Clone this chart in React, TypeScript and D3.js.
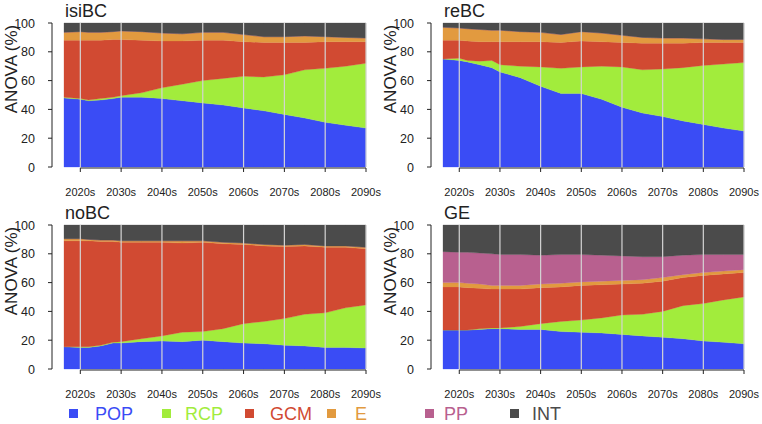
import React from "react";
import * as d3 from "d3";

const years = [2016, 2020, 2022, 2025, 2028, 2030, 2035, 2040, 2045, 2050, 2055, 2060, 2065, 2070, 2075, 2080, 2085, 2090];
const tickYears = [2020, 2030, 2040, 2050, 2060, 2070, 2080, 2090];
const tickLabels = ["2020s", "2030s", "2040s", "2050s", "2060s", "2070s", "2080s", "2090s"];
const yTicks = [0, 20, 40, 60, 80, 100];
const seriesNames = ["POP", "RCP", "GCM", "E", "PP", "INT"];
const seriesColors = ["#3a4cf5", "#a2ec3c", "#d14a32", "#e29a3f", "#b8608f", "#4b4b4b"];
const panelTitles = ["isiBC", "reBC", "noBC", "GE"];

// isiBC
const isiPOP = [48, 47, 46, 46.5, 47.5, 48.5, 48.5, 47.5, 46, 44.5, 43, 41, 39, 36.5, 34, 31, 29, 27];
const isiRCP = [0.5, 0.5, 0.5, 1, 1, 1, 3, 7.5, 11.5, 15.5, 18.5, 22, 23.5, 27.5, 33.5, 37.5, 41, 45];
const isiGCM = [39.5, 40.5, 41.5, 40.5, 40, 39, 36.5, 32.5, 30, 28, 26.5, 24, 24, 22.5, 19, 18.5, 17, 15];
const isiE = [5.5, 6, 5.5, 5.5, 5.5, 6, 6, 5.5, 5, 5.5, 5.5, 5, 4, 4, 4.5, 3.5, 3, 2.5];
const isiPP = [0, 0, 0, 0, 0, 0, 0, 0, 0, 0, 0, 0, 0, 0, 0, 0, 0, 0];
const isiINT = [6.5, 6, 6.5, 6.5, 6, 5.5, 6, 7, 7.5, 6.5, 6.5, 8, 9.5, 9.5, 9, 9.5, 10, 10.5];

// reBC
const rePOP = [75, 74, 73, 71, 69, 66, 62, 56, 51, 51, 47, 41.5, 37.5, 35, 32, 29.5, 27, 25];
const reRCP = [0, 1.5, 1, 2.5, 5, 5, 8, 13.5, 17.5, 18.5, 23, 28, 30, 33, 37, 41, 44.5, 47.5];
const reGCM = [13, 12.5, 13.5, 13.5, 13, 16, 17, 17.5, 18, 18, 17, 17, 18.5, 18, 17, 16, 15, 14];
const reE = [9, 8.5, 8.5, 8.5, 8, 8, 7, 6.5, 5.5, 6.5, 6, 5, 4, 3.5, 3.5, 2.5, 2, 2];
const rePP = [0, 0, 0, 0, 0, 0, 0, 0, 0, 0, 0, 0, 0, 0, 0, 0, 0, 0];
const reINT = [3, 3.5, 4, 4.5, 5, 5, 6, 6.5, 8, 6, 7, 8.5, 10, 10.5, 10.5, 11, 11.5, 11.5];

// noBC
const noPOP = [15.5, 15, 15, 16, 18, 18, 19, 19.5, 19, 20, 19, 18, 17.5, 16.5, 16, 15, 15, 14.5];
const noRCP = [0, 0.5, 0.5, 0.5, 0.5, 1, 2, 3.5, 6.5, 6, 9, 13.5, 15.5, 18.5, 22, 24, 27.5, 30];
const noGCM = [73.5, 73.5, 73.5, 72, 70, 69, 67, 65, 62, 62, 59, 55, 52.5, 50, 47.5, 45.5, 42, 39];
const noE = [1.5, 1.5, 1, 1, 1, 1, 1, 1, 1.5, 1, 1, 1, 1, 1, 1, 1, 1, 1];
const noPP = [0, 0, 0, 0, 0, 0, 0, 0, 0, 0, 0, 0, 0, 0, 0, 0, 0, 0];
const noINT = [9.5, 9.5, 10, 10.5, 10.5, 11, 11, 11, 11, 11, 12, 12.5, 13.5, 14, 13.5, 14.5, 14.5, 15.5];

// GE
const gePOP = [27, 27, 27, 27.5, 28, 28, 27.5, 27.5, 26, 25.5, 25, 24, 23, 22, 21, 19.5, 18.5, 17.5];
const geRCP = [0, 0, 0, 0.5, 0.5, 0.5, 2, 4, 7, 8.5, 10.5, 13.5, 15, 18, 23, 26, 29.5, 32.5];
const geGCM = [30, 30, 29.5, 28, 27, 27, 26, 25, 24, 24, 23, 21.5, 21.5, 21, 19.5, 19.5, 18, 17];
const geE = [3, 3, 3, 3, 2.5, 2.5, 2.5, 2.5, 2.5, 2.5, 2.5, 2.5, 2.5, 2.5, 2, 2, 2, 2];
const gePP = [21.5, 21, 21.5, 21.5, 22, 21.5, 21.5, 20, 20, 19, 18, 17, 16, 14.5, 13.5, 12.5, 11.5, 10.5];
const geINT = [18.5, 19, 19, 19.5, 20, 20.5, 20.5, 21, 20.5, 20.5, 21, 21.5, 22, 22, 21, 20.5, 20.5, 20.5];

const panelSeries = [
  [isiPOP, isiRCP, isiGCM, isiE, isiPP, isiINT],
  [rePOP, reRCP, reGCM, reE, rePP, reINT],
  [noPOP, noRCP, noGCM, noE, noPP, noINT],
  [gePOP, geRCP, geGCM, geE, gePP, geINT],
];

const layout = [
  { x0: 64, x1: 366, yTop: 23, yBot: 167 },
  { x0: 443, x1: 744, yTop: 23, yBot: 167 },
  { x0: 64, x1: 366, yTop: 225, yBot: 369 },
  { x0: 443, x1: 744, yTop: 225, yBot: 369 },
];

const FONT = "'Liberation Sans', Arial, Helvetica, sans-serif";

function Panel({ idx }: { idx: number }) {
  const L = layout[idx];
  const series = panelSeries[idx];
  const rows = years.map((yr, i) => {
    const r: any = { year: yr };
    seriesNames.forEach((n, k) => (r[n] = series[k][i]));
    return r;
  });
  const x = d3.scaleLinear().domain([years[0], years[years.length - 1]]).range([L.x0, L.x1]);
  const y = d3.scaleLinear().domain([0, 100]).range([L.yBot, L.yTop]);
  const stacked = d3.stack().keys(seriesNames)(rows as any);
  const area = d3
    .area<any>()
    .x((d: any) => x(d.data.year))
    .y0((d: any) => y(d[0]))
    .y1((d: any) => y(Math.min(100, d[1])));
  const axX = L.x0 - 12;
  return (
    <g>
      {stacked.map((s, k) => (
        <path key={k} d={area(s as any) || ""} fill={seriesColors[k]} stroke={seriesColors[k]} strokeWidth={0.3} />
      ))}
      {tickYears.map((t, i) => (
        <line key={i} x1={x(t)} x2={x(t)} y1={L.yTop} y2={L.yBot} stroke="#d4d4d4" strokeWidth={1.2} />
      ))}
      {/* y axis */}
      <line x1={axX} x2={axX} y1={y(0)} y2={y(100)} stroke="#222" strokeWidth={1} />
      {yTicks.map((t) => (
        <g key={t}>
          <line x1={axX - 4} x2={axX} y1={y(t)} y2={y(t)} stroke="#222" strokeWidth={1} />
          <text x={L.x0 - 29} y={y(t) + 4.5} textAnchor="end" fontSize={12.5} fontFamily={FONT} fill="#222">
            {t}
          </text>
        </g>
      ))}
      {/* x axis */}
      <line x1={x(tickYears[0])} x2={x(tickYears[tickYears.length - 1])} y1={L.yBot + 1} y2={L.yBot + 1} stroke="#222" strokeWidth={1} />
      {tickYears.map((t, i) => (
        <g key={t}>
          <line x1={x(t)} x2={x(t)} y1={L.yBot + 1} y2={L.yBot + 5} stroke="#222" strokeWidth={1} />
          <text x={x(t)} y={L.yBot + 29} textAnchor="middle" fontSize={11} fontFamily={FONT} fill="#222">
            {tickLabels[i]}
          </text>
        </g>
      ))}
      <text
        transform={`translate(${axX - 35},${(L.yTop + L.yBot) / 2 - 26}) rotate(-90)`}
        textAnchor="middle"
        fontSize={17}
        fontFamily={FONT}
        fill="#222"
      >
        ANOVA (%)
      </text>
      <text x={L.x0 + 1} y={L.yTop - 6} fontSize={18} fontFamily={FONT} fill="#222">
        {panelTitles[idx]}
      </text>
    </g>
  );
}

const legendSquareX = [69, 162, 245, 327, 425, 510];
const legendTextX = [95, 185, 270, 355, 444, 532];

export default function App() {
  return (
    <svg
      width={762}
      height={424}
      style={{ position: "fixed", left: 0, top: 0, background: "#fff" }}
    >
      <rect x={0} y={0} width={762} height={424} fill="#fff" />
      {[0, 1, 2, 3].map((i) => (
        <Panel key={i} idx={i} />
      ))}
      {seriesNames.map((n, k) => (
        <g key={n}>
          <rect x={legendSquareX[k]} y={409} width={9} height={9} fill={seriesColors[k]} />
          <text x={legendTextX[k]} y={420} fontSize={18} fontFamily={FONT} fill={seriesColors[k]}>
            {n}
          </text>
        </g>
      ))}
    </svg>
  );
}
